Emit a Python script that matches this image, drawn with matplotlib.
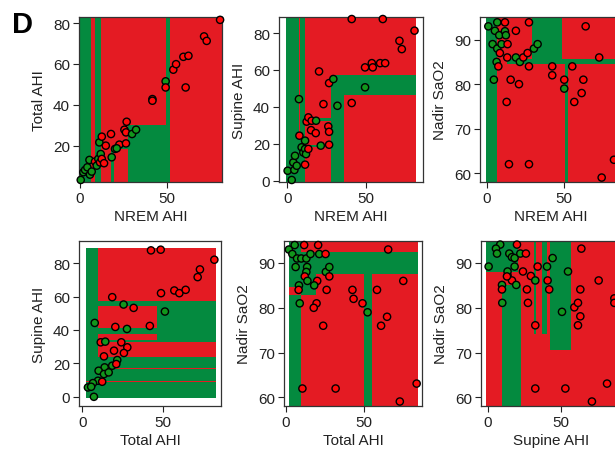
import numpy as np
import matplotlib
matplotlib.use("Agg")
import matplotlib.pyplot as plt
from matplotlib.colors import ListedColormap

plt.rcParams['font.family'] = ['Liberation Sans', 'DejaVu Sans']
plt.rcParams['font.size'] = 11

RED_BG = '#E41B23'
GREEN_BG = '#048A3F'
RED_PT = '#FF0A0A'
GREEN_PT = '#12961C'

# ---- panel 1: NREM AHI vs Total AHI
p1_x = [0.4, 1.9, 2.9, 4.2, 5.4, 5.7, 6.7, 8.6, 9.6, 10.5, 11.5, 11.9, 12.5, 13.8,
        11.1, 12.5, 17.8, 14.8, 22.6, 26.4, 20.1, 21.1, 18.2, 25.5, 26.4, 26.8,
        29.9, 32.2, 41.6, 41.6, 49.2, 49.2, 53.6, 55.2, 59.4, 62.3, 60.7, 71.3, 72.8, 80.5]
p1_y = [3.2, 7.0, 8.1, 9.4, 13.0, 5.8, 7.3, 12.2, 10.2, 13.5, 11.8, 15.9, 13.5, 11.4,
        21.6, 24.4, 25.7, 20.0, 20.5, 21.1, 18.4, 18.7, 14.3, 27.8, 26.5, 31.7,
        25.7, 27.8, 42.8, 42.0, 51.5, 48.5, 57.2, 59.9, 63.5, 64.0, 48.5, 73.5, 71.3, 81.6]
p1_c = list("GGGGGGGRGGRGRR" "GRRRRRGGGRRRGGRRGRRRRRRRRR")
p1_xe = [-5, 6.5, 8.4, 12.2, 18, 19.5, 27.7, 49.2, 51.6, 90]
p1_ye = [0, 18.4, 19.2, 30.3, 90]
p1_reg = ["GRGRRRRGR",
          "GRGRRRGGR",
          "GRGRGGGGR",
          "GRGRGRGGR"]

# ---- panel 2: NREM AHI vs Supine AHI
p2_x = [0.2, 2.8, 4.5, 3.8, 4.9, 6.0, 7.4, 7.7, 9.1, 10.2, 11.3, 11.3, 11.9, 11.3,
        13.4, 12.3, 13.4, 15.5, 18.3, 15.1, 18.1, 21.3, 20.2, 23.0, 26.6, 29.3,
        26.1, 26.6, 26.6, 31.9, 41.0, 41.0, 49.5, 49.5, 53.8, 54.4, 59.1, 62.3,
        60.8, 71.4, 72.9, 81.0]
p2_y = [5.4, 0.4, 5.8, 9.9, 13.5, 8.1, 44.2, 24.4, 18.1, 15.3, 21.7, 17.2, 14.4, 8.7,
        17.2, 32.0, 34.3, 32.5, 32.5, 27.4, 25.8, 19.0, 59.2, 41.5, 52.9, 55.1,
        29.4, 26.5, 19.5, 40.6, 42.1, 87.6, 50.6, 61.4, 63.7, 61.4, 63.7, 63.7,
        87.6, 75.8, 71.3, 81.3]
p2_c = list("GGGGGGGRGGGGGR" "RRRRGRRGRRRG" "RRRGRRGRRRRR" "RRRR")
p2_xe = [-1, 7.3, 8.3, 11.3, 20.5, 27.8, 36.3, 82]
p2_ye = [-5, 18, 19.5, 26, 32.5, 34, 46.4, 57.3, 95]
p2_reg = ["GRGRRRR",
          "GRGRRGG",
          "GRGRRGR",
          "GRGRGGR",
          "GRGRRGR",
          "GGGRRGR",
          "GGGGRGR",
          "GGGRRGR"]

# ---- panel 3: NREM AHI vs Nadir SaO2
p3_x = [0.9, 6.7, 11.7, 27.3, 64.1, 5.2, 8.0, 11.7, 12.3, 18.8, 3.7, 6.7, 8.4, 9.5,
        13.4, 6.3, 7.4, 13.2, 18.8, 21.4, 23.6, 26.4, 30.5, 32.9, 27.3, 42.4, 42.4,
        55.4, 50.2, 50.2, 56.7, 61.5, 62.6, 72.9, 4.5, 15.4, 20.8, 12.8, 14.3, 27.3,
        74.5, 82.5]
p3_y = [93, 93.9, 93.9, 93.9, 93, 92, 91, 91.9, 91, 92, 89, 88, 87, 89,
        89, 85, 84, 86, 86, 85, 86, 87, 88, 89, 84, 84, 82,
        84, 81, 79, 76, 78, 81, 86, 81, 81, 80, 76, 62, 62,
        59, 63]
p3_c = list("GGRRRGGGGRGGRGRGRRGGRRGGRRRRRGRRRRGRRRRRRR")
p3_xe = [-0.65, 6.7, 12.8, 29, 48.5, 50.6, 52.8, 84]
p3_ye = [50, 84.5, 85.6, 100]
p3_reg = ["GRRGRRR",
          "GRGGGGG",
          "GRRRRGR"]

# ---- panel 4: Total AHI vs Supine AHI
p4_x = [42.4, 48.4, 72.6, 71.2, 81.5, 48.6, 56.8, 59.9, 63.8, 51.0, 18.5, 25.5,
        31.7, 41.7, 7.7, 20.4, 27.6, 11.4, 14.2, 24.1, 27.8, 19.6, 25.7, 13.4,
        21.6, 18.5, 21.0, 13.8, 10.1, 13.4, 16.3, 9.7, 12.3, 6.6, 3.5, 5.5, 7.2]
p4_y = [87.6, 88.0, 76.2, 71.6, 82.0, 62.0, 63.6, 62.0, 64.0, 51.0, 59.6, 55.2,
        53.2, 42.4, 44.2, 41.8, 40.6, 32.6, 33.0, 32.6, 29.6, 27.6, 26.2, 24.2,
        22.0, 18.6, 19.6, 17.6, 15.6, 13.6, 14.6, 9.6, 9.0, 8.2, 5.6, 6.0, 0.0]
p4_c = list("RRRRRRRRRGRGRRGRGRGRRRRRGGRGGGGGRGGGG")
p4_xe = [2.1, 9.5, 13, 46.3, 82.5]
p4_ye = [-1, 8.8, 9.4, 16.7, 17.3, 23.6, 32.6, 34, 37.6, 41.4, 54.6, 57.6, 89]
p4_reg = ["GRRR",
          "GGGG",
          "GRRG",
          "GGGG",
          "GRRG",
          "GGGG",
          "GRRR",
          "GGGG",
          "GGRR",
          "GGGG",
          "RRRR",
          "GGGG"]

# ---- panel 5: Total AHI vs Nadir SaO2
p5_x = [2.1, 5.8, 4.3, 11.8, 20.7, 6.4, 7.3, 10.0, 13.2, 15.8, 21.4, 25.4, 13.7, 13.2,
        12.2, 13.9, 25.6, 27.8, 27.8, 8.5, 8.3, 9.0, 20.1, 18.2, 26.1, 19.7, 17.9,
        23.9, 42.5, 43.2, 48.9, 52.1, 58.1, 60.7, 64.5, 65.2, 74.8, 10.7, 31.8, 72.6, 83.3]
p5_y = [93, 94, 92, 94, 94, 89.1, 91, 91, 91, 92, 92, 92, 89.1, 88,
        87, 86, 88, 89.1, 87, 85, 84, 81, 86, 85, 84, 81, 80,
        76, 84, 82, 81, 79, 84, 76, 78, 93, 86, 62, 62, 59.1, 63.1]
p5_c = list("GGGRRGGGGGGRGGRGGGRGRGRGRRRRRRRGRRRRRRRRR")
p5_xe = [2, 10, 19.5, 50.1, 54.7, 84.4]
p5_ye = [55, 82.8, 84.6, 87.6, 92.5, 100]
p5_reg = ["GRRRR",
          "GGGGG",
          "GGRGR",
          "RGRGR",
          "GRRGR"]

# ---- panel 6: Supine AHI vs Nadir SaO2
p6_x = [0.7, 8.6, 5.7, 6.4, 20.0, 14.8, 16.6, 18.4, 22.3, 26.1, 13.6, 13.6, 18.4, 16.6,
        13.2, 24.1, 29.5, 32.5, 34.1, 40.5, 44.3, 40.9, 42.0, 54.8, 63.9, 9.8, 10.0,
        9.8, 19.5, 26.8, 27.5, 32.5, 50.7, 59.1, 61.6, 61.6, 63.2, 63.2, 75.7, 86.4,
        86.4, 32.5, 53.0, 71.1, 81.4]
p6_y = [89.2, 94.1, 93.2, 92.1, 94.1, 92.1, 91.3, 91.1, 92.1, 92.1, 87.2, 88.1, 89.2, 86.1,
        87.0, 88.1, 87.1, 86.1, 89.2, 89.2, 91.1, 86.1, 84.1, 88.1, 93.2, 85.1, 81.1,
        84.1, 85.1, 84.1, 81.1, 76.1, 79.1, 80.1, 81.1, 76.1, 84.1, 78.1, 86.1, 82.1,
        81.1, 62.0, 62.0, 59.1, 63.1]
p6_c = list("GGGGRGGGGRRGGRRRRGRGGRRGRGGRGRRRGRRRRRRRRRRRR")
p6_xe = [-0.9, 9.5, 20.5, 23, 31.8, 33.2, 37, 40.5, 42.7, 57, 90]
p6_ye = [55, 70.6, 74.2, 85.1, 87.9, 100]
p6_reg = ["GGRRGRGRGR",
          "RRRRGRGRGR",
          "RGGRGRGRGR",
          "RGGRRRRRGR",
          "RGGRRRRRRR"]

panels = [
    # (pixel box l, t, r, b), xlim, ylim, yticks, xlabel, ylabel, data
    ((79, 18, 222, 183), (-0.6, 81.6), (2.2, 83.0), [20, 40, 60, 80],
     "NREM AHI", "Total AHI", p1_x, p1_y, p1_c, p1_xe, p1_ye, p1_reg),
    ((279, 18, 423, 183), (-5.3, 86.4), (-0.7, 88.7), [0, 20, 40, 60, 80],
     "NREM AHI", "Supine AHI", p2_x, p2_y, p2_c, p2_xe, p2_ye, p2_reg),
    ((480, 18, 622, 183), (-4.5, 87.7), (58.0, 95.1), [60, 70, 80, 90],
     "NREM AHI", "Nadir SaO2", p3_x, p3_y, p3_c, p3_xe, p3_ye, p3_reg),
    ((79, 242, 221, 407), (-2.0, 85.6), (-5.5, 93.2), [0, 20, 40, 60, 80],
     "Total AHI", "Supine AHI", p4_x, p4_y, p4_c, p4_xe, p4_ye, p4_reg),
    ((284, 242, 422, 407), (-1.0, 86.7), (58.1, 94.9), [60, 70, 80, 90],
     "Total AHI", "Nadir SaO2", p5_x, p5_y, p5_c, p5_xe, p5_ye, p5_reg),
    ((481, 242, 622, 407), (-4.5, 91.6), (58.1, 94.9), [60, 70, 80, 90],
     "Supine AHI", "Nadir SaO2", p6_x, p6_y, p6_c, p6_xe, p6_ye, p6_reg),
]

W, H = 615, 452
fig = plt.figure(figsize=(W / 100, H / 100), dpi=100)
cmap = ListedColormap([GREEN_BG, RED_BG])

for box, xl, yl, yt, xlab, ylab, xs, ys, cs, xe, ye, reg in panels:
    l, t, r, b = box
    ax = fig.add_axes([l / W, 1 - b / H, (r - l) / W, (b - t) / H])
    # region rows are written top to bottom
    z = np.array([[0 if ch == 'G' else 1 for ch in row] for row in reg[::-1]])
    ax.pcolormesh(xe, ye, z, cmap=cmap, vmin=0, vmax=1, shading='flat',
                  antialiased=False, zorder=1)
    cols = [GREEN_PT if c == 'G' else RED_PT for c in cs]
    ax.scatter(xs, ys, s=27, c=cols, edgecolors='black', linewidths=1.0, zorder=3,
               clip_on=False)
    ax.set_xlim(xl)
    ax.set_ylim(yl)
    ax.set_xticks([0, 50])
    ax.set_yticks(yt)
    ax.tick_params(direction='out', length=4.5, width=0.8, pad=2, labelsize=11,
                   colors='#222222')
    for sp in ax.spines.values():
        sp.set_linewidth(0.9)
        sp.set_color('#333333')
    ax.set_xlabel(xlab, fontsize=11, labelpad=3, color='#222222')
    ax.set_ylabel(ylab, fontsize=11, labelpad=5, color='#222222')

fig.text(12 / W, 1 - 33 / H, "D", fontsize=21, fontweight='bold', ha='left', va='baseline')

fig.savefig("out.png", dpi=100)
